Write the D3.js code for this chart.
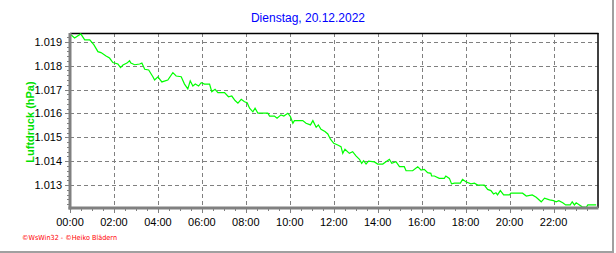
<!DOCTYPE html>
<html>
<head>
<meta charset="utf-8">
<script src="https://cdn.jsdelivr.net/npm/d3@7"></script>
<style>
  html, body { margin: 0; padding: 0; background: #fff; }
  svg { display: block; font-family: "Liberation Sans", Arial, sans-serif; }
</style>
</head>
<body>
<svg id="chart" width="616" height="253"></svg>
<script>
const hours = [0, 0.21, 0.49, 0.67, 0.9, 1.09, 1.27, 1.41, 1.64, 1.8, 1.95, 2.18, 2.3, 2.41, 2.59, 2.71, 2.77, 2.94, 3.17, 3.27,
  3.4, 3.58, 3.77, 3.85, 4.0, 4.18, 4.45, 4.68, 4.83, 5.06, 5.21, 5.36, 5.47, 5.59, 5.7, 5.85, 5.97, 6.12, 6.35, 6.45,
  6.6, 6.73, 7.03, 7.21, 7.36, 7.51, 7.64, 7.79, 7.94, 8.06, 8.17, 8.32, 8.42, 8.55, 9.0, 9.08, 9.3, 9.42, 9.6, 9.73,
  9.91, 10.03, 10.14, 10.21, 10.59, 10.74, 10.94, 11.05, 11.2, 11.3, 11.42, 11.6, 11.73, 11.85, 12.0, 12.18, 12.33, 12.41, 12.51, 12.71,
  12.86, 13.01, 13.17, 13.27, 13.36, 13.47, 13.58, 13.85, 14.0, 14.23, 14.53, 14.64, 14.83, 14.99, 15.21, 15.29, 15.59, 15.82, 15.97, 16.12,
  16.27, 16.42, 16.45, 16.58, 16.8, 17.03, 17.1, 17.26, 17.36, 17.49, 17.76, 17.86, 18.01, 18.24, 18.4, 18.55, 18.85, 19.0, 19.15, 19.27,
  19.38, 19.45, 19.58, 19.73, 19.99, 20.06, 20.59, 20.76, 21.03, 21.21, 21.44, 21.59, 21.82, 22.0, 22.12, 22.24, 22.42, 22.55, 22.76, 22.85,
  22.95, 23.03, 23.18, 23.3, 23.49, 23.56, 23.94];

const pressure = [1.01933, 1.01916, 1.01933, 1.01908, 1.01908, 1.01887, 1.01859, 1.01855, 1.01841, 1.01832, 1.01813, 1.01807, 1.01792, 1.01803, 1.01811, 1.01821, 1.01811, 1.01804, 1.01807, 1.01811,
  1.01785, 1.01782, 1.01754, 1.0174, 1.01753, 1.01732, 1.0174, 1.01771, 1.01757, 1.01754, 1.01723, 1.01703, 1.01737, 1.01715, 1.01723, 1.01715, 1.01729, 1.01723, 1.01723, 1.01691,
  1.01701, 1.01687, 1.01687, 1.0167, 1.01673, 1.01654, 1.01643, 1.01659, 1.01649, 1.01645, 1.01622, 1.01607, 1.01622, 1.01601, 1.01601, 1.01589, 1.01589, 1.0158, 1.01594, 1.01589,
  1.01601, 1.01587, 1.01559, 1.0157, 1.0157, 1.01559, 1.01552, 1.0157, 1.01542, 1.01552, 1.01534, 1.01524, 1.01514, 1.01492, 1.01475, 1.01468, 1.01461, 1.01433, 1.0145, 1.01433,
  1.0144, 1.01422, 1.01408, 1.01391, 1.01402, 1.01388, 1.014, 1.01397, 1.01388, 1.01388, 1.01408, 1.01391, 1.01398, 1.01377, 1.01377, 1.0136, 1.0136, 1.01377, 1.01363, 1.01366,
  1.01352, 1.01349, 1.01338, 1.01338, 1.01328, 1.01328, 1.01338, 1.01328, 1.01305, 1.01308, 1.01308, 1.01324, 1.01314, 1.01305, 1.01308, 1.013, 1.013, 1.01282, 1.01277, 1.01263,
  1.01268, 1.01259, 1.01277, 1.01259, 1.01259, 1.01266, 1.01266, 1.01254, 1.01259, 1.01249, 1.0123, 1.01245, 1.01238, 1.01235, 1.0123, 1.01235, 1.01226, 1.01217, 1.01217, 1.0123,
  1.01217, 1.01226, 1.01217, 1.01209, 1.01207, 1.01217, 1.01217];

const yTicks = [1.013, 1.014, 1.015, 1.016, 1.017, 1.018, 1.019];
const yTickLabels = ["1.013", "1.014", "1.015", "1.016", "1.017", "1.018", "1.019"];
const xTicks = [0, 2, 4, 6, 8, 10, 12, 14, 16, 18, 20, 22];
const xTickLabels = ["00:00", "02:00", "04:00", "06:00", "08:00", "10:00", "12:00", "14:00", "16:00", "18:00", "20:00", "22:00"];

const svg = d3.select("#chart");
const plotL = 70, plotR = 597.5, plotT = 33, plotB = 208;

const x = d3.scaleLinear().domain([0, 24]).range([plotL, plotR]);
const y = d3.scaleLinear().domain([1.01204, 1.01937]).range([plotB, plotT]);

// outer frame lines
svg.append("line").attr("x1", 613).attr("x2", 613).attr("y1", 0).attr("y2", 253)
  .attr("stroke", "#a0a0a0").attr("stroke-width", 2);
svg.append("line").attr("x1", 0).attr("x2", 614).attr("y1", 252).attr("y2", 252)
  .attr("stroke", "#a0a0a0").attr("stroke-width", 2);

// grid
const grid = svg.append("g").attr("stroke", "#808080").attr("stroke-width", 1).attr("stroke-dasharray", "4,3");
grid.selectAll(".gx").data(xTicks.slice(1)).enter().append("line")
  .attr("x1", d => Math.round(x(d)) + 0.5).attr("x2", d => Math.round(x(d)) + 0.5)
  .attr("y1", plotT).attr("y2", plotB);
grid.selectAll(".gy").data(yTicks).enter().append("line")
  .attr("x1", plotL).attr("x2", plotR)
  .attr("y1", d => Math.round(y(d)) + 0.5).attr("y2", d => Math.round(y(d)) + 0.5);

// top and right frame
svg.append("line").attr("x1", plotL).attr("x2", plotR + 1).attr("y1", plotT + 0.5).attr("y2", plotT + 0.5)
  .attr("stroke", "#000").attr("stroke-width", 1.5);
svg.append("line").attr("x1", plotR + 0.5).attr("x2", plotR + 0.5).attr("y1", plotT).attr("y2", plotB)
  .attr("stroke", "#000").attr("stroke-width", 1.5);

// pressure line
svg.append("path").datum(pressure)
  .attr("d", d3.line().x((d, i) => x(hours[i])).y(d => y(d)))
  .attr("fill", "none").attr("stroke", "#00ff00").attr("stroke-width", 1.2);

// x axis ticks
const minorX = d3.range(0, 24, 0.5);
svg.append("g").attr("stroke", "#808080").selectAll("line").data(minorX).enter().append("line")
  .attr("x1", d => Math.round(x(d)) + 0.5).attr("x2", d => Math.round(x(d)) + 0.5)
  .attr("y1", plotB).attr("y2", d => xTicks.includes(d) ? plotB + 5 : plotB + 3);
svg.append("g").selectAll("text").data(xTicks).enter().append("text")
  .attr("x", d => x(d)).attr("y", 226).attr("text-anchor", "middle")
  .attr("font-size", 11).attr("fill", "#000")
  .text((d, i) => xTickLabels[i]);

// y axis ticks
const minorY = d3.range(0, 37).map(i => 1.0122 + i * 0.0002).filter(v => v < 1.0194);
svg.append("g").attr("stroke", "#808080").selectAll("line").data(minorY).enter().append("line")
  .attr("y1", d => Math.round(y(d)) + 0.5).attr("y2", d => Math.round(y(d)) + 0.5)
  .attr("x1", d => yTicks.some(t => Math.abs(t - d) < 1e-6) ? plotL - 5 : plotL - 3).attr("x2", plotL);
svg.append("g").selectAll("text").data(yTicks).enter().append("text")
  .attr("x", 62).attr("y", d => y(d) + 4).attr("text-anchor", "end")
  .attr("font-size", 11).attr("fill", "#000")
  .text((d, i) => yTickLabels[i]);

// thick gray axes
svg.append("rect").attr("x", plotL - 1.5).attr("y", plotT).attr("width", 3).attr("height", plotB - plotT + 1.5).attr("fill", "#808080");
svg.append("rect").attr("x", plotL - 1.5).attr("y", plotB - 1.5).attr("width", plotR - plotL + 2.5).attr("height", 3).attr("fill", "#808080");

// title
svg.append("text").attr("x", 308).attr("y", 22).attr("text-anchor", "middle")
  .attr("font-size", 12).attr("fill", "#0000ff").text("Dienstag, 20.12.2022");

// y label
svg.append("text").attr("transform", "translate(34,122) rotate(-90)").attr("text-anchor", "middle")
  .attr("font-size", 11).attr("font-weight", "bold").attr("fill", "#00e000").text("Luftdruck (hPa)");

// footer
svg.append("text").attr("x", 22).attr("y", 240).attr("font-size", 7).attr("font-family", "DejaVu Sans")
  .attr("fill", "#ff0000").attr("textLength", 95).attr("lengthAdjust", "spacingAndGlyphs")
  .text("©WsWin32 - ©Heiko Blädern");
</script>
</body>
</html>
